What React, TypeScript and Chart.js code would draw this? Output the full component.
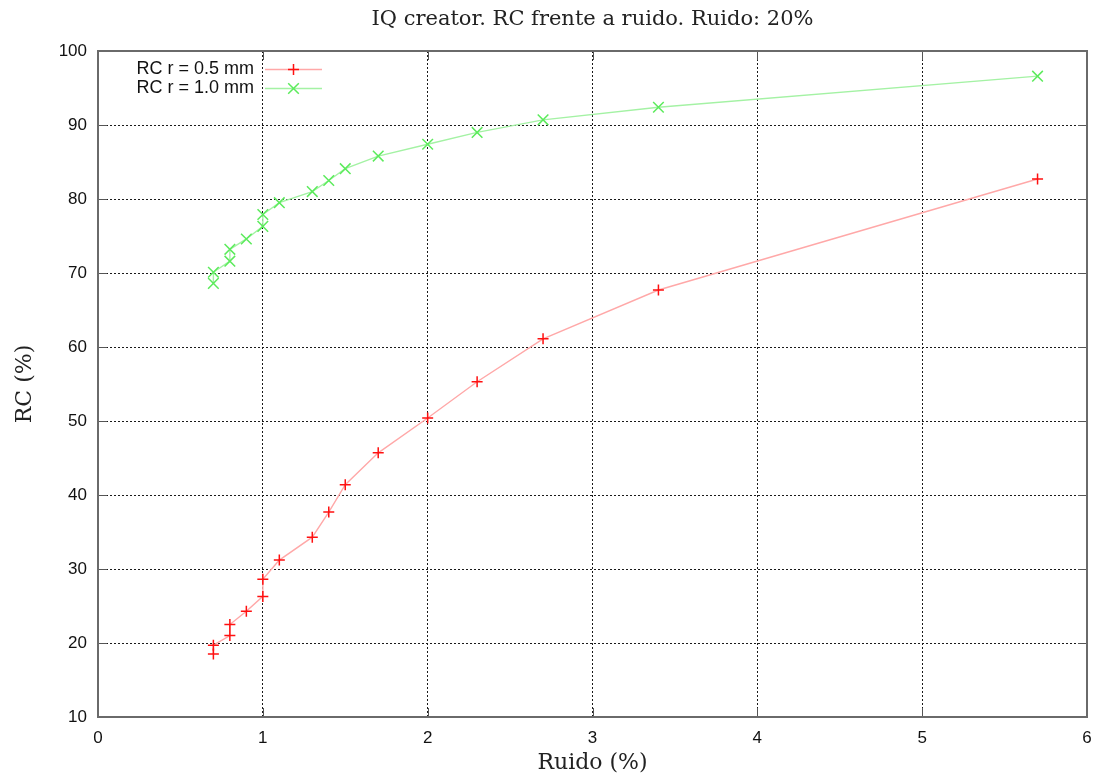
import React, { useEffect, useRef } from 'react';
import { Chart, registerables } from 'chart.js';

Chart.register(...registerables);

const chartTitle = 'IQ creator. RC frente a ruido. Ruido: 20%';
const xAxisTitle = 'Ruido (%)';
const yAxisTitle = 'RC (%)';
const seriesLabels = ['RC r = 0.5 mm', 'RC r = 1.0 mm'];

const ruidoR05 = [0.7, 0.7, 0.8, 0.8, 0.9, 1.0, 1.0, 1.1, 1.3, 1.4, 1.5, 1.7, 2.0, 2.3, 2.7, 3.4, 5.7];
const rcR05 = [18.5, 19.7, 21.0, 22.5, 24.3, 26.3, 28.6, 31.2, 34.3, 37.7, 41.4, 45.7, 50.4, 55.3, 61.1, 67.7, 82.7];

const ruidoR10 = [0.7, 0.7, 0.8, 0.8, 0.9, 1.0, 1.0, 1.1, 1.3, 1.4, 1.5, 1.7, 2.0, 2.3, 2.7, 3.4, 5.7];
const rcR10 = [68.6, 70.1, 71.6, 73.2, 74.6, 76.3, 77.9, 79.5, 81.0, 82.5, 84.1, 85.8, 87.4, 89.0, 90.7, 92.4, 96.6];

const xTickValues = [0, 1, 2, 3, 4, 5, 6];
const yTickValues = [10, 20, 30, 40, 50, 60, 70, 80, 90, 100];

const SERIF = '"DejaVu Serif", "Liberation Serif", serif';
const SANS = '"Liberation Sans", Arial, sans-serif';

const seriesStyles = [
  { line: '#ffa8a8', marker: '#ff1010', shape: 'cross', radius: 5.5 },
  { line: '#a4f2a4', marker: '#5ceb5c', shape: 'crossRot', radius: 7.5 },
];

function drawMarker(ctx: CanvasRenderingContext2D, shape: string, x: number, y: number, r: number) {
  ctx.beginPath();
  if (shape === 'cross') {
    ctx.moveTo(x - r, y);
    ctx.lineTo(x + r, y);
    ctx.moveTo(x, y - r);
    ctx.lineTo(x, y + r);
  } else {
    const d = r * Math.SQRT1_2;
    ctx.moveTo(x - d, y - d);
    ctx.lineTo(x + d, y + d);
    ctx.moveTo(x - d, y + d);
    ctx.lineTo(x + d, y - d);
  }
  ctx.stroke();
}

const framePlugin = {
  id: 'gnuFrame',
  beforeDatasetsDraw(chart: any) {
    const { ctx, chartArea: a, scales } = chart;
    ctx.save();
    ctx.strokeStyle = '#555';
    ctx.lineWidth = 1;
    const tl = 9;
    scales.x.ticks.forEach((t: any) => {
      const px = Math.round(scales.x.getPixelForValue(t.value)) + 0.5;
      ctx.beginPath();
      ctx.moveTo(px, a.bottom);
      ctx.lineTo(px, a.bottom - tl);
      ctx.moveTo(px, a.top);
      ctx.lineTo(px, a.top + tl);
      ctx.stroke();
    });
    scales.y.ticks.forEach((t: any) => {
      const py = Math.round(scales.y.getPixelForValue(t.value)) + 0.5;
      ctx.beginPath();
      ctx.moveTo(a.left, py);
      ctx.lineTo(a.left + tl, py);
      ctx.moveTo(a.right, py);
      ctx.lineTo(a.right - tl, py);
      ctx.stroke();
    });
    ctx.lineWidth = 2;
    ctx.strokeStyle = '#6a6a6a';
    ctx.strokeRect(a.left, a.top, a.right - a.left, a.bottom - a.top);
    ctx.restore();
  },
  afterDraw(chart: any) {
    const { ctx, chartArea: a } = chart;
    const cx = (a.left + a.right) / 2;
    const cy = (a.top + a.bottom) / 2;
    ctx.save();
    ctx.fillStyle = '#222';
    ctx.textAlign = 'center';
    ctx.textBaseline = 'middle';
    ctx.font = `21px ${SERIF}`;
    ctx.fillText(chartTitle, cx, 20);
    ctx.font = `22px ${SERIF}`;
    ctx.fillText(xAxisTitle, cx, 763);
    ctx.save();
    ctx.translate(25, cy);
    ctx.rotate(-Math.PI / 2);
    ctx.fillText(yAxisTitle, 0, 0);
    ctx.restore();

    // legend
    ctx.font = `18px ${SANS}`;
    ctx.textAlign = 'right';
    chart.data.datasets.forEach((ds: any, i: number) => {
      const y = 69 + i * 19;
      const st = seriesStyles[i];
      ctx.fillStyle = '#111';
      ctx.fillText(ds.label, 254, y);
      ctx.strokeStyle = st.line;
      ctx.lineWidth = 1.5;
      ctx.beginPath();
      ctx.moveTo(265, y + 0.5);
      ctx.lineTo(322, y + 0.5);
      ctx.stroke();
      ctx.strokeStyle = st.marker;
      ctx.lineWidth = 1.5;
      drawMarker(ctx, st.shape, 293.5, y + 0.5, st.radius);
    });
    ctx.restore();
  },
};

export default function App() {
  const canvasRef = useRef<HTMLCanvasElement | null>(null);

  useEffect(() => {
    const canvas = canvasRef.current;
    if (!canvas) return;
    const series = [
      { xs: ruidoR05, ys: rcR05 },
      { xs: ruidoR10, ys: rcR10 },
    ];
    const chart = new Chart(canvas, {
      type: 'line',
      data: {
        datasets: series.map((s, i) => ({
          label: seriesLabels[i],
          data: s.xs.map((x, j) => ({ x, y: s.ys[j] })),
          borderColor: seriesStyles[i].line,
          backgroundColor: seriesStyles[i].marker,
          borderWidth: 1.4,
          tension: 0,
          fill: false,
          pointStyle: seriesStyles[i].shape as any,
          pointRadius: seriesStyles[i].radius,
          pointBorderColor: seriesStyles[i].marker,
          pointBackgroundColor: seriesStyles[i].marker,
          pointBorderWidth: 1.5,
          pointHoverRadius: seriesStyles[i].radius,
        })),
      },
      options: {
        animation: false,
        responsive: false,
        maintainAspectRatio: false,
        events: [],
        layout: { padding: { top: 51, right: 9, left: 0, bottom: 0 } },
        plugins: {
          legend: { display: false },
          title: { display: false },
          tooltip: { enabled: false },
        },
        scales: {
          x: {
            type: 'linear',
            min: xTickValues[0],
            max: xTickValues[xTickValues.length - 1],
            afterFit: (scale: any) => {
              scale.height = 59;
              scale.paddingLeft = 0;
              scale.paddingRight = 0;
            },
            afterBuildTicks: (scale: any) => {
              scale.ticks = xTickValues.map((v) => ({ value: v }));
            },
            ticks: {
              stepSize: 1,
              color: '#111',
              padding: 11,
              maxRotation: 0,
              font: { family: SANS, size: 17 },
            },
            grid: {
              color: (c: any) =>
                c.tick && (c.tick.value === xTickValues[0] || c.tick.value === xTickValues[xTickValues.length - 1])
                  ? 'rgba(0,0,0,0)'
                  : '#1a1a1a',
              lineWidth: 1,
              drawTicks: false,
            },
            border: { display: false, dash: [2, 2] },
          },
          y: {
            type: 'linear',
            min: yTickValues[0],
            max: yTickValues[yTickValues.length - 1],
            afterFit: (scale: any) => {
              scale.width = 98;
              scale.paddingTop = 0;
              scale.paddingBottom = 0;
            },
            afterBuildTicks: (scale: any) => {
              scale.ticks = yTickValues.map((v) => ({ value: v }));
            },
            ticks: {
              stepSize: 10,
              color: '#111',
              padding: 11,
              font: { family: SANS, size: 17 },
            },
            grid: {
              color: (c: any) =>
                c.tick && (c.tick.value === yTickValues[0] || c.tick.value === yTickValues[yTickValues.length - 1])
                  ? 'rgba(0,0,0,0)'
                  : '#1a1a1a',
              lineWidth: 1,
              drawTicks: false,
            },
            border: { display: false, dash: [2, 2] },
          },
        },
      },
      plugins: [framePlugin],
    });
    return () => {
      chart.destroy();
    };
  }, []);

  return (
    <div style={{ position: 'absolute', left: 0, top: 0, width: 1096, height: 776, background: '#fff' }}>
      <canvas ref={canvasRef} width={1096} height={776} style={{ display: 'block' }} />
    </div>
  );
}
